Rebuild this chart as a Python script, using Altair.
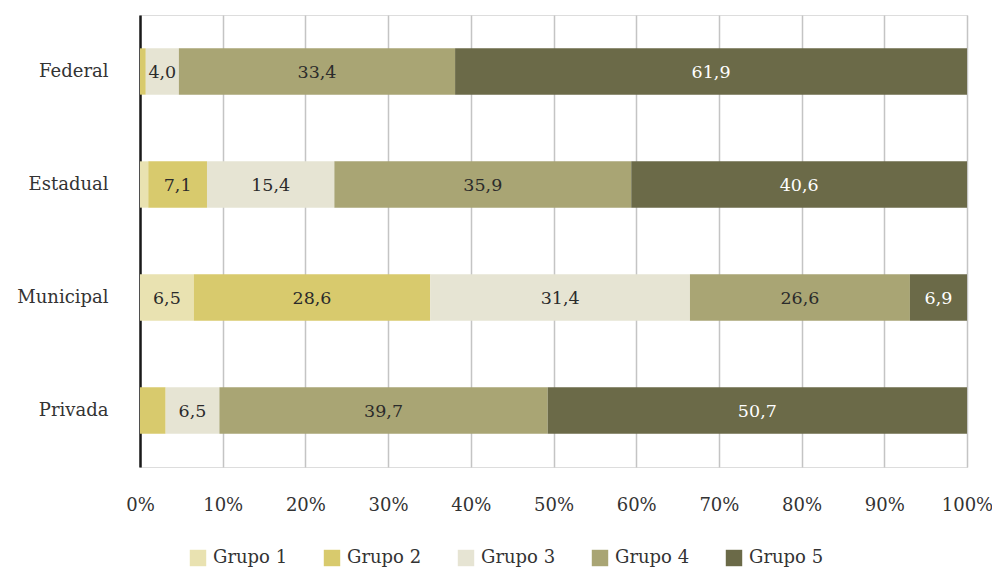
import altair as alt
import pandas as pd

# Share of each group by school network (percent)
redes = ["Federal", "Estadual", "Municipal", "Privada"]
grupos = ["Grupo 1", "Grupo 2", "Grupo 3", "Grupo 4", "Grupo 5"]
grupo1 = [0.0, 1.0, 6.5, 0.0]
grupo2 = [0.7, 7.1, 28.6, 3.1]
grupo3 = [4.0, 15.4, 31.4, 6.5]
grupo4 = [33.4, 35.9, 26.6, 39.7]
grupo5 = [61.9, 40.6, 6.9, 50.7]
cores = ["#e9e2b1", "#d8ca6d", "#e6e4d3", "#a9a574", "#6b6a48"]

series = [grupo1, grupo2, grupo3, grupo4, grupo5]
rows = []
for g, (nome, vals) in enumerate(zip(grupos, series)):
    for r, rede in enumerate(redes):
        rows.append({"rede": rede, "grupo": nome, "ordem": g, "valor": vals[r]})
df = pd.DataFrame(rows)

FONT = "DejaVu Serif"
FS = 18

y_enc = alt.Y(
    "rede:N",
    sort=redes,
    scale=alt.Scale(paddingInner=0.59, paddingOuter=0.295),
    axis=alt.Axis(
        title=None,
        ticks=False,
        domain=True,
        domainColor="#1a1a1a",
        domainWidth=2.5,
        labelFont=FONT,
        labelFontSize=FS,
        labelColor="#333333",
        labelPadding=32,
        grid=False,
    ),
)

x_enc = alt.X(
    "valor:Q",
    stack="zero",
    scale=alt.Scale(domain=[0, 100], nice=False),
    axis=alt.Axis(
        title=None,
        values=list(range(0, 101, 10)),
        labelExpr="datum.value + '%'",
        labelFlush=False,
        labelBound=False,
        labelOverlap=False,
        domain=False,
        ticks=False,
        grid=True,
        gridColor="#c4c4c4",
        gridWidth=1.5,
        labelFont=FONT,
        labelFontSize=FS,
        labelColor="#333333",
        labelPadding=29,
    ),
)

bars = alt.Chart(df).mark_bar().encode(
    x=x_enc,
    y=y_enc,
    color=alt.Color(
        "grupo:N",
        sort=grupos,
        scale=alt.Scale(domain=grupos, range=cores),
        legend=alt.Legend(
            title=None,
            orient="none",
            direction="horizontal",
            legendX=49,
            legendY=534,
            symbolType="square",
            symbolSize=270,
            symbolStrokeWidth=0,
            labelFont=FONT,
            labelFontSize=FS,
            labelColor="#333333",
            labelOffset=6,
            columnPadding=35,
        ),
    ),
    order=alt.Order("ordem:Q"),
)

labels = (
    alt.Chart(df)
    .transform_stack(
        stack="valor", groupby=["rede"], as_=["x0", "x1"], sort=[alt.SortField("ordem")]
    )
    .transform_filter("datum.valor >= 4")
    .transform_calculate(
        meio="(datum.x0 + datum.x1) / 2",
        rotulo="replace(format(datum.valor, '.1f'), '.', ',')",
    )
    .mark_text(font=FONT, fontSize=17.5, baseline="middle", dy=1)
    .encode(
        x=alt.X("meio:Q"),
        y=alt.Y("rede:N", sort=redes),
        text="rotulo:N",
        color=alt.condition(
            "datum.grupo == 'Grupo 5'", alt.value("#ffffff"), alt.value("#2b2b2b")
        ),
    )
)

chart = (
    alt.layer(bars, labels)
    .properties(
        width=827,
        height=452,
        padding={"left": 140, "top": 15, "right": 25, "bottom": 100},
        autosize=alt.AutoSizeParams(type="none"),
    )
    .configure_view(stroke=None)
    .configure(background="#ffffff")
)

chart.save("out.html", embed_options={"renderer": "svg", "actions": False})
